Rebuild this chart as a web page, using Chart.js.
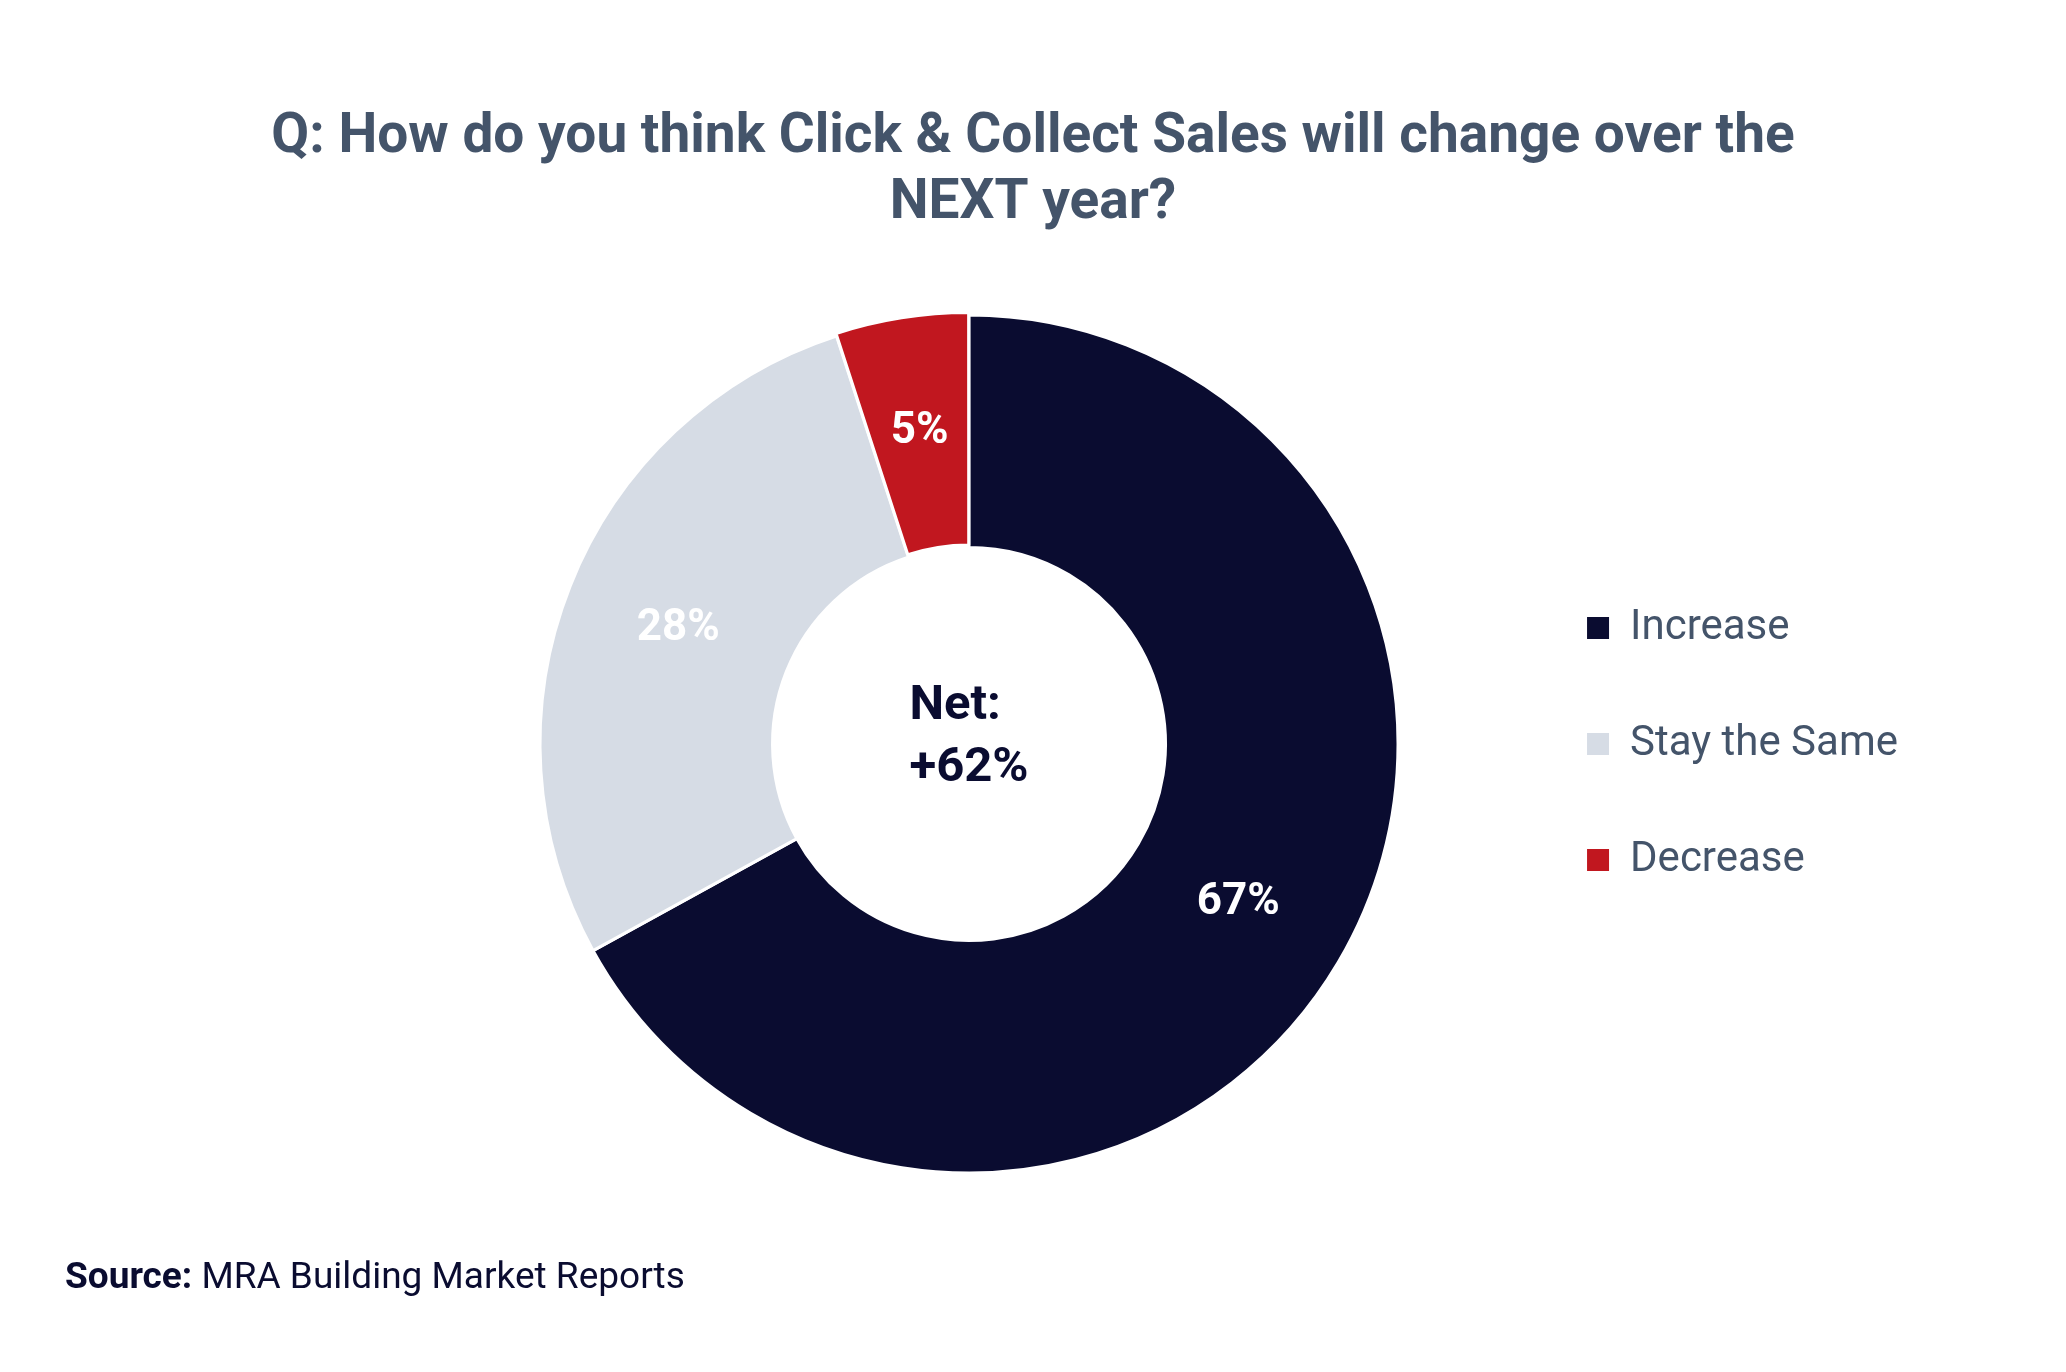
<!DOCTYPE html>
<html>
<head>
<meta charset="utf-8">
<title>Click &amp; Collect Sales</title>
<script src="https://cdn.jsdelivr.net/npm/chart.js@4.4.1/dist/chart.umd.min.js"></script>
<style>
  html, body { margin: 0; padding: 0; background: #ffffff; }
  #wrap { width: 2066px; height: 1372px; position: relative; }
</style>
</head>
<body>
<div id="wrap"><canvas id="mycanvas"></canvas></div>
<script>
// chart data
var categories = ['Increase', 'Stay the Same', 'Decrease'];
var shares = [67, 28, 5];           // percent of respondents
var sliceColours = ['#0a0c30', '#d6dce5', '#c1171f'];
var sliceOffsets = [0, 0, 6];       // the Decrease slice is pulled out a little
var titleLines = ['Q: How do you think Click & Collect Sales will change over the', 'NEXT year?'];
var centreLines = ['Net:', '+62%'];
var sourceBold = 'Source:';
var sourceText = ' MRA Building Market Reports';

var FONT = 'Roboto';
var NAVY = '#0a0c30';
var SLATE = '#44546a';

// title centred on the whole page (the built-in one centres on the padded box)
var pageTitle = {
  id: 'pageTitle',
  afterDraw: function(chart) {
    var ctx = chart.ctx;
    ctx.save();
    ctx.fillStyle = SLATE;
    ctx.font = 'bold 55px ' + FONT;
    ctx.textAlign = 'center';
    ctx.textBaseline = 'alphabetic';
    titleLines.forEach(function(t, i) {
      ctx.fillText(t, chart.width / 2, 152 + i * 66);
    });
    ctx.restore();
  }
};

// white % labels in the middle of each slice
var sliceLabels = {
  id: 'sliceLabels',
  afterDatasetsDraw: function(chart) {
    var ctx = chart.ctx;
    var meta = chart.getDatasetMeta(0);
    ctx.save();
    ctx.fillStyle = '#ffffff';
    ctx.font = 'bold 44px ' + FONT;
    ctx.textAlign = 'center';
    ctx.textBaseline = 'middle';
    meta.data.forEach(function(arc, i) {
      var p = arc.tooltipPosition();
      ctx.fillText(shares[i] + '%', p.x, p.y);
    });
    ctx.restore();
  }
};

// "Net: +62%" in the hole
var centreText = {
  id: 'centreText',
  afterDatasetsDraw: function(chart) {
    var ctx = chart.ctx;
    var a = chart.chartArea;
    var cx = (a.left + a.right) / 2;
    var cy = (a.top + a.bottom) / 2;
    ctx.save();
    ctx.fillStyle = NAVY;
    ctx.font = 'bold 49px ' + FONT;
    ctx.textAlign = 'left';
    ctx.textBaseline = 'alphabetic';
    var w = 0;
    centreLines.forEach(function(t) { w = Math.max(w, ctx.measureText(t).width); });
    ctx.fillText(centreLines[0], cx - w / 2, cy - 25);
    ctx.fillText(centreLines[1], cx - w / 2, cy + 37);
    ctx.restore();
  }
};

// source note bottom left
var sourceNote = {
  id: 'sourceNote',
  afterDraw: function(chart) {
    var ctx = chart.ctx;
    ctx.save();
    ctx.fillStyle = NAVY;
    ctx.textBaseline = 'alphabetic';
    ctx.textAlign = 'left';
    ctx.font = 'bold 37px ' + FONT;
    ctx.fillText(sourceBold, 65, 1288);
    var x = 65 + ctx.measureText(sourceBold).width;
    ctx.font = '37px ' + FONT;
    ctx.fillText(sourceText, x, 1288);
    ctx.restore();
  }
};

var ctx = document.getElementById('mycanvas');

var pieChart = new Chart(ctx, {
  type: 'doughnut',
  data: {
    labels: categories,
    datasets: [
      {
        data: shares,
        backgroundColor: sliceColours,
        borderColor: '#ffffff',
        borderWidth: 3,
        offset: sliceOffsets,
        hoverOffset: 0
      }
    ]
  },
  options: {
    responsive: true,
    maintainAspectRatio: false,
    animation: false,
    events: [],
    radius: 429,
    cutout: '45.8%',
    layout: {
      padding: { left: 425, right: 158, top: 246, bottom: 130 }
    },
    plugins: {
      tooltip: { enabled: false },
      title: { display: false },
      legend: {
        position: 'right',
        align: 'center',
        fullSize: false,
        labels: {
          boxWidth: 22,
          boxHeight: 22,
          padding: 74,
          color: SLATE,
          font: { family: FONT, size: 42 },
          generateLabels: function(chart) {
            var items = Chart.controllers.doughnut.overrides.plugins.legend.labels.generateLabels(chart);
            items.forEach(function(it) { it.lineWidth = 0; it.strokeStyle = 'rgba(0,0,0,0)'; });
            return items;
          }
        }
      }
    }
  },
  plugins: [sliceLabels, centreText, sourceNote, pageTitle]
});
</script>
</body>
</html>
